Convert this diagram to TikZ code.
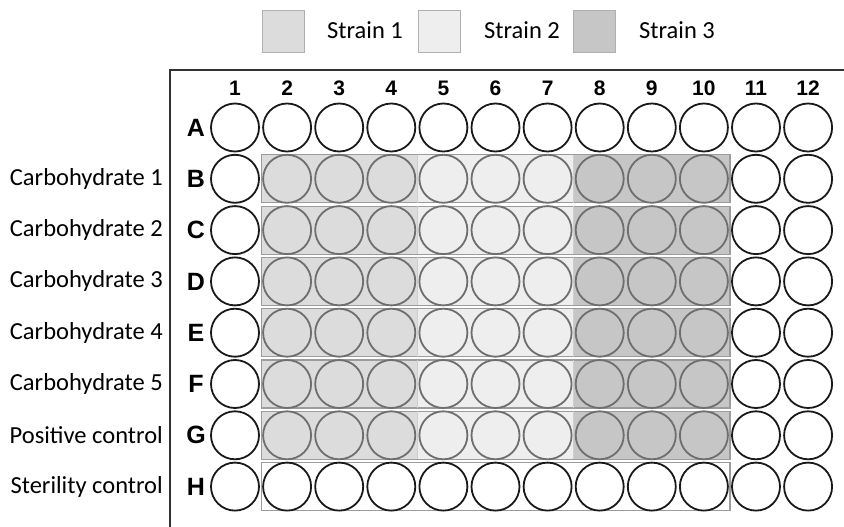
\documentclass[tikz,border=0pt]{standalone}
\usepackage{fontspec}
\setmainfont{Carlito}
\newfontfamily\platefont{Liberation Sans}
\definecolor{strainone}{HTML}{DCDCDC}
\definecolor{straintwo}{HTML}{EEEEEE}
\definecolor{strainthree}{HTML}{C6C6C6}
\definecolor{bandedge}{HTML}{9C9C9C}
\definecolor{wellgray}{HTML}{6E6E6E}
\tikzset{
  well/.style={circle,draw=black!90,line width=1.8pt,minimum size=48pt,inner sep=0pt},
  bandwell/.style={well,draw=wellgray},
  band/.style={draw=bandedge,line width=1.2pt},
  keybox/.style={draw=bandedge!80,line width=0.8pt,minimum size=42pt,inner sep=0pt},
  collabel/.style={font=\platefont\bfseries\fontsize{21}{24}\selectfont,inner sep=0pt},
  rowlabel/.style={font=\platefont\bfseries\fontsize{25}{28}\selectfont,inner sep=0pt},
  sidetext/.style={font=\fontsize{24.5}{28}\selectfont,inner sep=0pt,anchor=east},
  keytext/.style={font=\fontsize{24.5}{28}\selectfont,inner sep=0pt,anchor=west}
}
\begin{document}
\begin{tikzpicture}[x=1pt,y=-1pt]
  \useasboundingbox (0,0) rectangle (844,527);
  % legend
  \node[keybox,fill=strainone] (key-1) at (283,31) {};
  \node[keytext] (keytext-1) at (327,30) {Strain 1};
  \node[keybox,fill=straintwo] (key-2) at (439.5,31) {};
  \node[keytext] (keytext-2) at (484,30) {Strain 2};
  \node[keybox,fill=strainthree] (key-3) at (594,31) {};
  \node[keytext] (keytext-3) at (639,30) {Strain 3};
  % plate frame
  \draw[line width=1.8pt,black!80] (844,70) -- (170,70) -- (170,527);
  % strain bands, rows B to G
  \foreach \i in {1,...,6} {
    \pgfmathsetmacro\yc{127.5+51.3*\i}
    \fill[strainone] (261.1,\yc-24) rectangle (417.35,\yc+24);
    \fill[straintwo] (417.35,\yc-24) rectangle (573.65,\yc+24);
    \fill[strainthree] (573.65,\yc-24) rectangle (729.9,\yc+24);
    \draw[band] (261.1,\yc-24) rectangle (729.9,\yc+24);
    \draw[bandedge!50,line width=0.6pt] (417.35,\yc-24) -- (417.35,\yc+24)
      (573.65,\yc-24) -- (573.65,\yc+24);
  }
  % blank band, row H
  \draw[band] (261.1,486.6-24) rectangle (729.9,486.6+24);
  % column numbers
  \foreach \c in {1,...,12} {
    \pgfmathsetmacro\xc{235+52.1*(\c-1)}
    \node[collabel] (col-\c) at (\xc,88) {\c};
  }
  % rows of wells
  \foreach \r [count=\i from 0] in {A,B,C,D,E,F,G,H} {
    \pgfmathsetmacro\yc{127.5+51.3*\i}
    \node[rowlabel] (row-\r) at (196,\yc) {\r};
    \foreach \c in {1,...,12} {
      \pgfmathsetmacro\xc{235+52.1*(\c-1)}
      \pgfmathtruncatemacro\inband{(\i>0)*(\i<7)*(\c>1)*(\c<11)}
      \ifnum\inband=1 \def\wellkind{bandwell}\else\def\wellkind{well}\fi
      \node[\wellkind] (well-\r\c) at (\xc,\yc) {};
    }
  }
  % sample labels
  \node[sidetext] (side-B) at (163,178.8) {Carbohydrate 1};
  \node[sidetext] (side-C) at (163,230.1) {Carbohydrate 2};
  \node[sidetext] (side-D) at (163,281.4) {Carbohydrate 3};
  \node[sidetext] (side-E) at (163,332.7) {Carbohydrate 4};
  \node[sidetext] (side-F) at (163,384.0) {Carbohydrate 5};
  \node[sidetext] (side-G) at (163,435.3) {Positive control};
  \node[sidetext] (side-H) at (163,486.6) {Sterility control};
\end{tikzpicture}
\end{document}
